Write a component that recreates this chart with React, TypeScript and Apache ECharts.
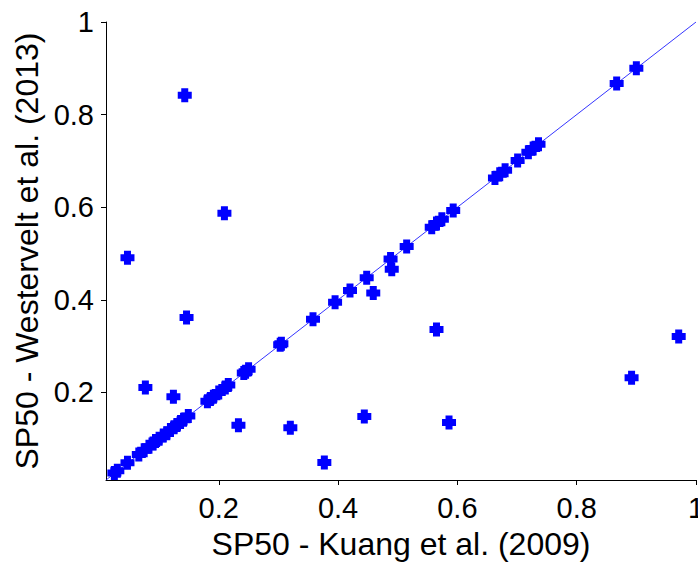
import React, { useEffect, useRef } from "react";
import * as echarts from "echarts";

const kuang = [
  0.025, 0.03, 0.047, 0.066, 0.075, 0.083, 0.09, 0.094, 0.1, 0.107, 0.113, 0.119, 0.125, 0.13,
  0.136, 0.141, 0.149, 0.181, 0.186, 0.191, 0.2, 0.211, 0.216, 0.242, 0.245, 0.25, 0.303, 0.305,
  0.358, 0.395, 0.42, 0.448, 0.488, 0.515, 0.557, 0.565, 0.574, 0.593, 0.663, 0.671, 0.68, 0.701,
  0.719, 0.727, 0.736, 0.867, 0.9,
  0.143, 0.2095, 0.047, 0.146, 0.077, 0.124, 0.233, 0.32, 0.377, 0.444, 0.586, 0.565, 0.892,
  0.971, 0.459, 0.49,
];
const westervelt = [
  0.026, 0.031, 0.048, 0.066, 0.075, 0.083, 0.09, 0.095, 0.1, 0.107, 0.112, 0.119, 0.125, 0.13,
  0.136, 0.141, 0.149, 0.181, 0.186, 0.191, 0.2, 0.211, 0.216, 0.242, 0.245, 0.25, 0.303, 0.305,
  0.358, 0.395, 0.42, 0.448, 0.488, 0.515, 0.557, 0.565, 0.574, 0.593, 0.663, 0.671, 0.68, 0.701,
  0.719, 0.727, 0.736, 0.867, 0.9,
  0.842, 0.587, 0.491, 0.362, 0.211, 0.191, 0.129, 0.124, 0.049, 0.148, 0.135, 0.336, 0.232,
  0.321, 0.415, 0.466,
];
const tickValues = [0.2, 0.4, 0.6, 0.8, 1];
const axisMin = 0.011;
const axisMax = 1;
const identityLine = [
  [axisMin, axisMin],
  [axisMax, axisMax],
];

const plusSymbol =
  "path://M3.5,0H10.5V3.5H14V10.5H10.5V14H3.5V10.5H0V3.5H3.5Z";

export default function App() {
  const ref = useRef<HTMLDivElement>(null);
  useEffect(() => {
    if (!ref.current) return;
    const chart = echarts.init(ref.current, null, { renderer: "svg" });
    const font = "'Liberation Sans', Arial, Helvetica, sans-serif";
    const axisCommon = (name: string, isY: boolean) => ({
      type: "value",
      min: axisMin,
      max: axisMax,
      name,
      nameLocation: "middle",
      nameGap: isY ? 62 : 48,
      nameTextStyle: { fontSize: 32, color: "#000", fontFamily: font },
      axisLine: { show: true, lineStyle: { color: "#000", width: 1 } },
      axisTick: {
        show: true,
        length: 5,
        lineStyle: { color: "#000" },
        customValues: tickValues,
      },
      axisLabel: {
        fontSize: 29,
        color: "#000",
        fontFamily: font,
        margin: isY ? 12 : 13,
        customValues: tickValues,
        formatter: (v: number) => String(Math.round(v * 10) / 10),
      },
      splitLine: { show: false },
    });
    chart.setOption({
      animation: false,
      backgroundColor: "#fff",
      grid: {
        left: 106,
        top: 22,
        width: 590,
        height: 458,
        containLabel: false,
        outerBoundsMode: "none",
      },
      xAxis: axisCommon("SP50 - Kuang et al. (2009)", false),
      yAxis: axisCommon("SP50 - Westervelt et al. (2013)", true),
      series: [
        {
          type: "line",
          data: identityLine,
          symbol: "none",
          lineStyle: { color: "#0000ff", width: 0.8 },
          z: 1,
        },
        {
          type: "scatter",
          data: kuang.map((x, i) => [x, westervelt[i]]),
          symbol: plusSymbol,
          symbolSize: 14,
          itemStyle: { color: "#0000ff", opacity: 1 },
          z: 2,
        },
      ],
    });
    return () => chart.dispose();
  }, []);
  return (
    <div
      ref={ref}
      style={{ position: "fixed", left: 0, top: 0, width: 698, height: 563 }}
    />
  );
}
